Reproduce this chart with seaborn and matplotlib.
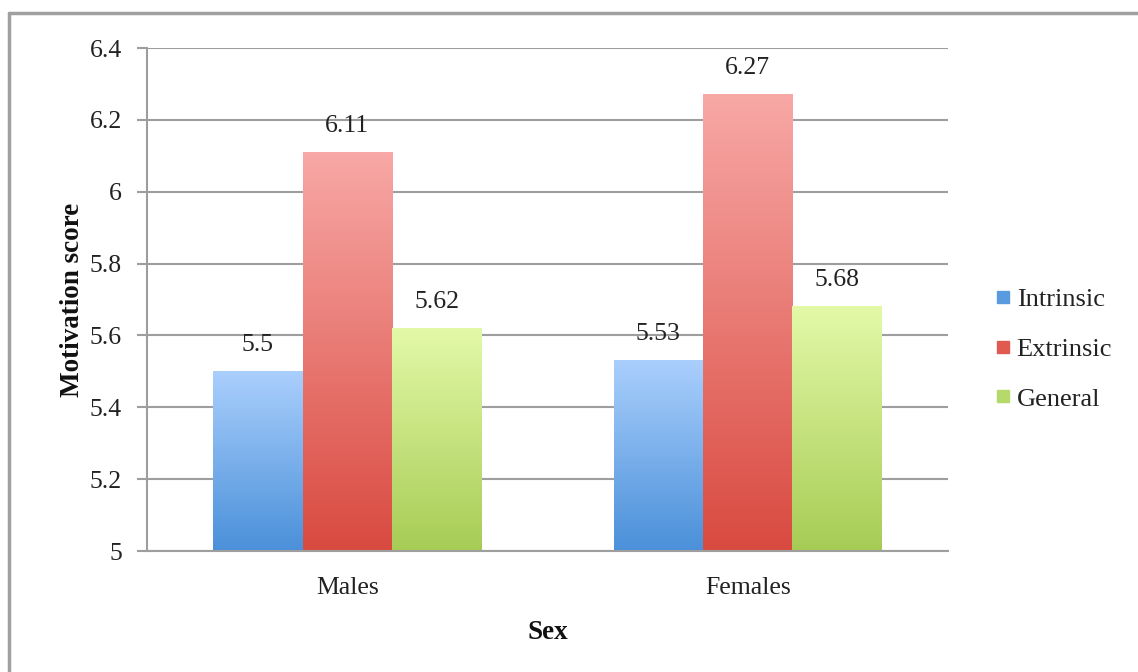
import numpy as np
import pandas as pd
import matplotlib
matplotlib.use("Agg")
import matplotlib.pyplot as plt
import matplotlib.colors as mcolors
from matplotlib.lines import Line2D
import seaborn as sns

# data
sexes = ["Males", "Females"]
kinds = ["Intrinsic", "Extrinsic", "General"]
intrinsic = [5.5, 5.53]
extrinsic = [6.11, 6.27]
general = [5.62, 5.68]

df = pd.DataFrame({
    "Sex": sexes * 3,
    "Type": [k for k in kinds for _ in sexes],
    "Score": intrinsic + extrinsic + general,
})

# gradient colours (top, bottom) and legend swatch colour
grad = {
    "Intrinsic": ("#aacffd", "#4a90d9", "#5a9be0"),
    "Extrinsic": ("#f8a8a6", "#d94a40", "#e05a52"),
    "General": ("#e3f9a8", "#a7cc55", "#b5d96a"),
}

sns.set_style("white")
plt.rcParams["font.family"] = ["Liberation Serif", "DejaVu Serif"]
grid_col = "#9e9e9e"
txt_col = "#222222"

fig = plt.figure(figsize=(11.38, 6.72), dpi=100)
ax = fig.add_axes([147 / 1138, 1 - 551 / 672, 801 / 1138, 503 / 672])

sns.barplot(data=df, x="Sex", y="Score", hue="Type", order=sexes, hue_order=kinds,
            width=0.67, legend=False, ax=ax, errorbar=None)

ymin, ymax = 5, 6.4

# swap flat fills for vertical gradients
for kind, cont in zip(kinds, ax.containers):
    top, bot, _ = grad[kind]
    cmap = mcolors.LinearSegmentedColormap.from_list(kind, [bot, top])
    for bar in cont:
        x0 = bar.get_x()
        x1 = x0 + bar.get_width()
        h = bar.get_height()
        bar.set_facecolor("none")
        bar.set_edgecolor("none")
        g = np.linspace(0, 1, 256).reshape(-1, 1)
        ax.imshow(g, cmap=cmap, origin="lower", aspect="auto",
                  extent=[x0, x1, ymin, h], zorder=2)
        ax.annotate(f"{h:g}", (x0 + bar.get_width() / 2, h), xytext=(0, 11),
                    textcoords="offset points", ha="center", va="bottom",
                    fontsize=18.5, color=txt_col, zorder=4)

ax.set_xlim(-0.5, 1.5)
ax.set_ylim(ymin, ymax)

yt = np.round(np.arange(5, 6.41, 0.2), 1)
ax.set_yticks(yt)
ax.set_yticklabels([f"{v:g}" for v in yt])
ax.yaxis.grid(True, color=grid_col, lw=1.5, zorder=1)
ax.set_axisbelow(True)

ax.set_xticks([0, 1])
ax.set_xticks([-0.5, 0.5, 1.5], minor=True)
ax.tick_params(axis="x", which="major", length=0, pad=19, labelsize=18.5, labelcolor=txt_col)
ax.tick_params(axis="x", which="minor", length=7, width=1.5, color=grid_col, direction="out")
ax.tick_params(axis="y", length=7, width=1.5, color=grid_col, direction="out", pad=11,
               labelsize=18.5, labelcolor=txt_col, left=True)

for s in ["top", "right"]:
    ax.spines[s].set_visible(False)
for s in ["left", "bottom"]:
    ax.spines[s].set_color(grid_col)
    ax.spines[s].set_linewidth(1.5)

ax.set_xlabel("Sex", fontsize=19.5, fontweight="bold", color="#111111")
ax.set_ylabel("Motivation score", fontsize=19.5, fontweight="bold", color="#111111")
ax.xaxis.set_label_coords(0.5, -0.137)
ax.yaxis.set_label_coords(-0.078, 0.5)

handles = [Line2D([], [], marker="s", ls="none", markersize=9, color=grad[k][2]) for k in kinds]
fig.legend(handles, kinds, loc="center left", bbox_to_anchor=(985 / 1138, 1 - 349 / 672),
           frameon=False, fontsize=19, handlelength=0.6, handletextpad=0.2,
           labelspacing=1.0, borderaxespad=0, labelcolor=txt_col)

# outer frame (only top and left edges show in the original)
fig.add_artist(Line2D([9 / 1138, 9 / 1138], [0, 1 - 13 / 672], color="#a0a0a0", lw=2.5))
fig.add_artist(Line2D([9 / 1138, 1], [1 - 13 / 672, 1 - 13 / 672], color="#a0a0a0", lw=2.5))

fig.savefig("out.png", dpi=100)
